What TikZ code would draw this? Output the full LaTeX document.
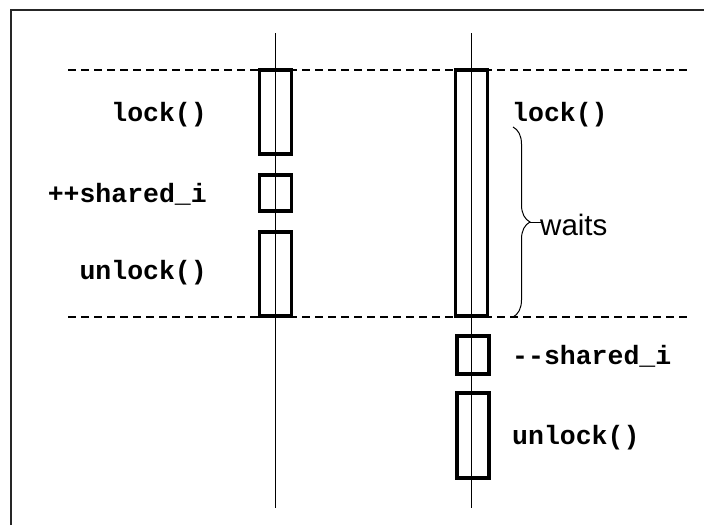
\documentclass[tikz,border=0pt]{standalone}
\usepackage{fontspec}
\setmonofont{Liberation Mono}
\setsansfont{Liberation Sans}
\usetikzlibrary{decorations.pathreplacing}
\tikzset{
  actbox/.style={draw, line width=3.5pt, inner sep=0pt, outer sep=0pt, minimum width=32pt},
  lifeline/.style={line width=0.9pt},
  sync/.style={line width=1.8pt, dash pattern=on 8pt off 5pt},
  codetxt/.style={font=\fontsize{26.5}{30}\selectfont\ttfamily\bfseries, inner sep=0pt},
  waittxt/.style={font=\fontsize{29.5}{34}\selectfont\sffamily, inner sep=0pt},
  frameline/.style={line width=2pt, draw=black!85}
}
\begin{document}
\begin{tikzpicture}[x=1pt,y=-1pt]
\useasboundingbox (0,0) rectangle (704,525);
\draw[frameline] (11,525) -- (11,10) -- (704,10);
% lifelines
\coordinate (lt) at (275,33); \coordinate (lb) at (275,508);
\coordinate (rt) at (471.5,33); \coordinate (rb) at (471.5,508);
\draw[lifeline] (lt) -- (lb);
\draw[lifeline] (rt) -- (rb);
% sync dashed lines
\coordinate (d1a) at (68,70); \coordinate (d1b) at (690,70);
\coordinate (d2a) at (68,317); \coordinate (d2b) at (690,317);
\draw[sync] (d1a) -- (d1b);
\draw[sync] (d2a) -- (d2b);
% left thread boxes
\node[actbox, minimum height=84pt] (L1) at (275.5,112) {};
\node[actbox, minimum height=36pt] (L2) at (275.5,193) {};
\node[actbox, minimum height=84pt] (L3) at (275.5,274) {};
% right thread boxes
\node[actbox, minimum height=246pt] (R1) at (471.5,193) {};
\node[actbox, minimum height=38pt] (R2) at (473,355) {};
\node[actbox, minimum height=85pt] (R3) at (473,435.5) {};
% labels
\node[codetxt, anchor=east] (tl1) at (207,115) {lock()};
\node[codetxt, anchor=east] (tl2) at (207,194) {++shared\_i};
\node[codetxt, anchor=east] (tl3) at (207,273) {unlock()};
\node[codetxt, anchor=west] (tr1) at (512,115) {lock()};
\node[codetxt, anchor=west] (tr2) at (512,356) {-{}-shared\_i};
\node[codetxt, anchor=west] (tr3) at (512,438) {unlock()};
% brace
\coordinate (bt) at (513,127); \coordinate (bb) at (513,317);
\draw[line width=1pt, decorate, decoration={brace, amplitude=17pt}] (bt) -- (bb);
\draw[line width=1pt] (530,222) -- (541,222);
\node[waittxt, anchor=west] (w) at (540,225) {waits};
\end{tikzpicture}
\end{document}
